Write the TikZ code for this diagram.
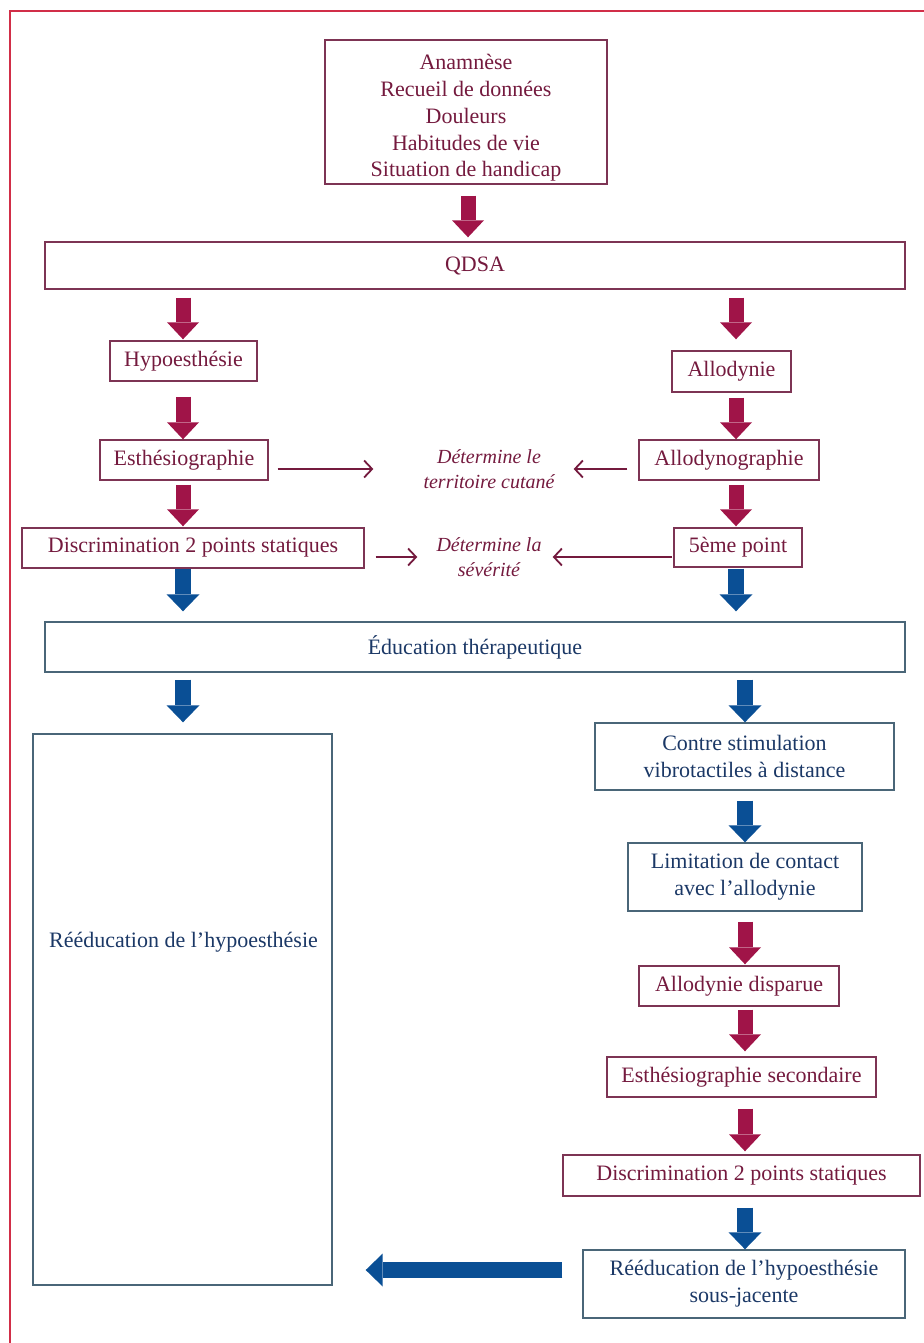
\documentclass[tikz,border=0pt]{standalone}
\usepackage{fontspec}
\setmainfont{Liberation Serif}
\usetikzlibrary{arrows.meta}
\definecolor{framered}{HTML}{D12E48}
\definecolor{marr}{HTML}{A01448}
\definecolor{mtext}{HTML}{741A3E}
\definecolor{mbord}{HTML}{7D3454}
\definecolor{barr}{HTML}{0A4F95}
\definecolor{btext}{HTML}{1B3866}
\definecolor{bbord}{HTML}{4A6678}
\begin{document}
\begin{tikzpicture}[x=1pt,y=-1pt,
  mbox/.style={draw=mbord, line width=1.4pt, text=mtext, font=\fontsize{22}{27}\selectfont, align=center, inner sep=0pt},
  bbox/.style={draw=bbord, line width=1.4pt, text=btext, font=\fontsize{22}{27}\selectfont, align=center, inner sep=0pt},
  mtxt/.style={text=mtext, font=\fontsize{22}{26.8}\selectfont, align=center, inner sep=0pt},
  btxt/.style={text=btext, font=\fontsize{22}{27}\selectfont, align=center, inner sep=0pt},
  note/.style={text=mtext, font=\fontsize{20}{25}\selectfont\itshape, align=center, inner sep=0pt},
  marrow/.style={draw=marr, line width=15pt, -{Triangle[width=32pt,length=17pt,line width=0pt]}},
  barrow/.style={draw=barr, line width=16pt, -{Triangle[width=33pt,length=17pt,line width=0pt]}},
  tarrow/.style={draw=mtext, line width=1.6pt, -{Straight Barb[length=8pt,width=17pt,line width=1.8pt]}}
]
\useasboundingbox (0,0) rectangle (923,1343);
\draw[framered, line width=2.5pt] (10,1345) -- (10,11) -- (925,11);

% column coordinates
\coordinate (cT) at (468,0);
\coordinate (cL) at (183,0);
\coordinate (cR) at (736,0);
\coordinate (cR2) at (745,0);
\coordinate (cH) at (0,1270);

% nodes
\node[mbox, minimum width=282, minimum height=144] (top) at (466,112) {};
\node[mtxt] (topt) at (466,118)
  {Anamnèse\\Recueil de données\\Douleurs\\Habitudes de vie\\Situation de handicap};
\node[mbox, minimum width=860, minimum height=47] (qdsa) at (475,265.5) {QDSA};
\node[mbox, minimum width=147, minimum height=40] (hypo) at (183.5,361) {Hypoesthésie};
\node[mbox, minimum width=168, minimum height=40] (esth) at (184,460) {Esthésiographie};
\node[mbox, minimum width=342, minimum height=40] (disc) at (193,548) {Discrimination 2 points statiques};
\node[mbox, minimum width=119, minimum height=41] (allo) at (731.5,371.5) {Allodynie};
\node[mbox, minimum width=180, minimum height=40] (allog) at (729,460) {Allodynographie};
\node[mbox, minimum width=128, minimum height=39] (cinq) at (738,547.5) {5ème point};
\node[note] (terr) at (489,469) {Détermine le\\territoire cutané};
\node[note] (sev) at (489,557) {Détermine la\\sévérité};
\node[bbox, minimum width=860, minimum height=50] (educ) at (475,647) {Éducation thérapeutique};
\node[bbox, minimum width=299, minimum height=551] (big) at (182.5,1009.5) {};
\node[btxt] (bigt) at (183.5,942) {Rééducation de l’hypoesthésie};
\node[bbox, minimum width=299, minimum height=67] (contre) at (744.5,756.5) {Contre stimulation\\vibrotactiles à distance};
\node[bbox, minimum width=234, minimum height=68] (limit) at (745,877) {Limitation de contact\\avec l’allodynie};
\node[mbox, minimum width=200, minimum height=40] (dispar) at (739,986) {Allodynie disparue};
\node[mbox, minimum width=269, minimum height=40] (esth2) at (741.5,1077) {Esthésiographie secondaire};
\node[mbox, minimum width=357, minimum height=41] (disc2) at (741.5,1175.5) {Discrimination 2 points statiques};
\node[bbox, minimum width=322, minimum height=68] (reed2) at (744,1284) {Rééducation de l’hypoesthésie\\sous-jacente};

% maroon block arrows
\draw[marrow, shorten <=11pt, shorten >=4pt] (top.south -| cT) -- (qdsa.north -| cT);
\draw[marrow, shorten <=8pt, shorten >=1pt] (qdsa.south -| cL) -- (hypo.north -| cL);
\draw[marrow, shorten <=8pt, shorten >=11pt] (qdsa.south -| cR) -- (allo.north -| cR);
\draw[marrow, shorten <=15pt, shorten >=0pt] (hypo.south -| cL) -- (esth.north -| cL);
\draw[marrow, shorten <=5pt, shorten >=0pt] (allo.south -| cR) -- (allog.north -| cR);
\draw[marrow, shorten <=4pt, shorten >=1pt] (esth.south -| cL) -- (disc.north -| cL);
\draw[marrow, shorten <=4pt, shorten >=1pt] (allog.south -| cR) -- (cinq.north -| cR);
% blue block arrows
\draw[barrow, shorten <=0pt, shorten >=10pt] (disc.south -| cL) -- (educ.north -| cL);
\draw[barrow, shorten <=1pt, shorten >=10pt] (cinq.south -| cR) -- (educ.north -| cR);
\draw[barrow, shorten <=7pt, shorten >=11pt] (educ.south -| cL) -- (big.north -| cL);
\draw[barrow, shorten <=7pt, shorten >=0pt] (educ.south -| cR2) -- (contre.north -| cR2);
\draw[barrow, shorten <=10pt, shorten >=0pt] (contre.south -| cR2) -- (limit.north -| cR2);
% maroon block arrows (lower right)
\draw[marrow, shorten <=10pt, shorten >=1pt] (limit.south -| cR2) -- (dispar.north -| cR2);
\draw[marrow, shorten <=3pt, shorten >=5pt] (dispar.south -| cR2) -- (esth2.north -| cR2);
\draw[marrow, shorten <=11pt, shorten >=3pt] (esth2.south -| cR2) -- (disc2.north -| cR2);
% blue block arrows (bottom)
\draw[barrow, shorten <=11pt, shorten >=0pt] (disc2.south -| cR2) -- (reed2.north -| cR2);
\draw[barrow, shorten <=20pt, shorten >=33pt] (reed2.west |- cH) -- (big.east |- cH);

% thin arrows
\draw[tarrow, shorten <=9pt, shorten >=50pt] (esth.east |- terr.center) -- (terr.west);
\draw[tarrow, shorten <=11pt, shorten >=19pt] (allog.west |- terr.center) -- (terr.east);
\draw[tarrow, shorten <=11pt, shorten >=19pt] (disc.east |- sev.center) -- (sev.west);
\draw[tarrow, shorten <=1pt, shorten >=11pt] (cinq.west |- sev.center) -- (sev.east);
\end{tikzpicture}
\end{document}
